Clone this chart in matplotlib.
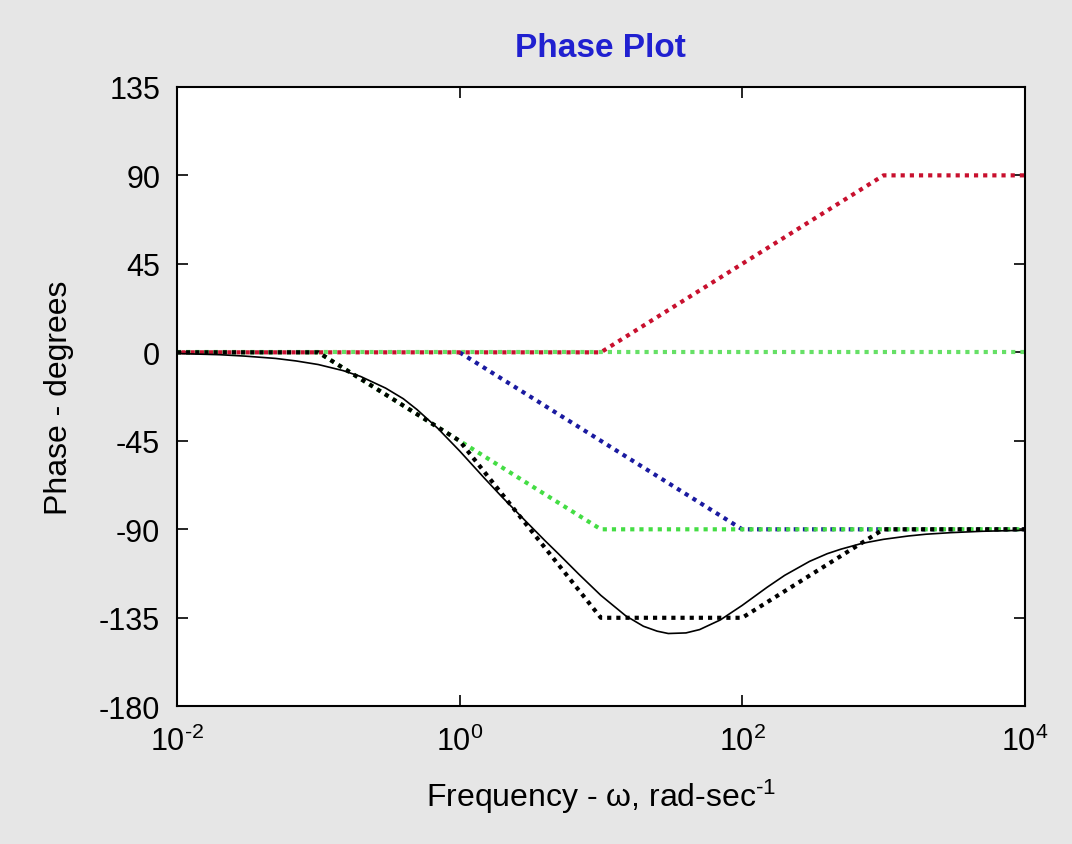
import numpy as np
import matplotlib.pyplot as plt
from matplotlib.ticker import FixedLocator, NullLocator

plt.rcParams['font.family'] = ['Liberation Sans', 'DejaVu Sans']
plt.rcParams['axes.unicode_minus'] = False
plt.rcParams['mathtext.fontset'] = 'custom'
plt.rcParams['mathtext.rm'] = 'Liberation Sans'
plt.rcParams['mathtext.default'] = 'regular'

# asymptote corner frequencies and phases
w_zero = [1e-2, 1e4]
ph_zero = [0, 0]

w_red = [1e-2, 10, 1000, 1e4]
ph_red = [0, 0, 90, 90]

w_blue = [1, 100, 1e4]
ph_blue = [0, -90, -90]

w_green = [1e-2, 0.1, 10, 1e4]
ph_green = [0, 0, -90, -90]

w_sum = [1e-2, 0.1, 1, 10, 100, 1000, 1e4]
ph_sum = [0, 0, -45, -135, -135, -90, -90]

# exact phase curve
w_exact = [0.01, 0.02, 0.03, 0.05, 0.07, 0.1, 0.15, 0.2, 0.3, 0.4, 0.5, 0.7,
           1, 1.5, 2, 3, 4, 5, 7, 10, 15, 20, 25, 30, 40, 50, 70, 100, 150,
           200, 300, 400, 500, 700, 1000, 1500, 2000, 3000, 5000, 10000]
ph_exact = [-0.6, -1.2, -1.9, -3.1, -4.4, -6.2, -9.3, -12.3, -18.2, -23.6,
            -29.1, -38.6, -50.1, -64.0, -73.6, -86.5, -95.6, -102.4, -112.9,
            -123.6, -134.0, -139.3, -141.8, -143.0, -142.7, -141.0, -136.1,
            -128.7, -119.5, -113.4, -106.3, -102.4, -100.1, -97.2, -95.1,
            -93.4, -92.5, -91.7, -91.0, -90.5]

xticks = [1e-2, 1e0, 1e2, 1e4]
xticklabels = ['$10^{\\text{-}2}$', '$10^{0}$', '$10^{2}$', '$10^{4}$']
yticks = [-180, -135, -90, -45, 0, 45, 90, 135]

fig = plt.figure(figsize=(10.72, 8.45), dpi=100, facecolor='#e6e6e6')
ax = fig.add_axes([0.165, 0.163, 0.791, 0.733])

dots = (0, (1, 1.2))
lw = 3
ax.plot(w_zero, ph_zero, color='#66e066', lw=lw, linestyle=dots)
ax.plot(w_blue, ph_blue, color='#1a1aa0', lw=lw, linestyle=dots)
ax.plot(w_green, ph_green, color='#44dd44', lw=lw, linestyle=dots)
ax.plot(w_red, ph_red, color='#c8102e', lw=lw, linestyle=(1.1, (1, 1.2)))
ax.plot(w_sum, ph_sum, color='black', lw=lw, linestyle=dots)
ax.plot(w_exact, ph_exact, color='black', lw=1.2)

ax.set_xscale('log')
ax.set_xlim(1e-2, 1e4)
ax.set_ylim(-180, 135)
ax.xaxis.set_major_locator(FixedLocator(xticks))
ax.xaxis.set_minor_locator(NullLocator())
ax.set_xticklabels(xticklabels)
ax.set_yticks(yticks)
ax.tick_params(direction='in', top=True, right=True, labelsize=22,
               length=8, width=1.2)
ax.tick_params(axis='x', pad=14)
ax.tick_params(axis='y', pad=12)
for s in ax.spines.values():
    s.set_linewidth(1.5)

ax.set_title('Phase Plot', color='#2020d0', fontsize=24, fontweight='bold', pad=22)
ax.set_xlabel('Frequency - \u03c9, rad-sec$^{\\text{-}1}$', fontsize=23, labelpad=14)
ax.set_ylabel('Phase - degrees', fontsize=23, labelpad=18)

fig.savefig('out.png', dpi=100, facecolor=fig.get_facecolor())
